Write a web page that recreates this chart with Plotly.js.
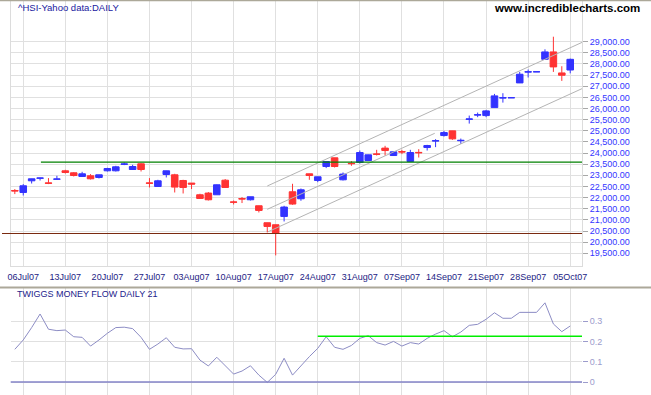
<!DOCTYPE html>
<html>
<head>
<meta charset="utf-8">
<script src="https://cdn.plot.ly/plotly-3.0.1.min.js"></script>
<style>
  html, body { margin: 0; padding: 0; background: #ffffff; }
  #chart { width: 651px; height: 395px; }
</style>
</head>
<body>
<div id="chart"></div>
<script>
// ---------------- data ----------------
const dates = [
  '2007-07-05','2007-07-06',
  '2007-07-09','2007-07-10','2007-07-11','2007-07-12','2007-07-13',
  '2007-07-16','2007-07-17','2007-07-18','2007-07-19','2007-07-20',
  '2007-07-23','2007-07-24','2007-07-25','2007-07-26','2007-07-27',
  '2007-07-30','2007-07-31','2007-08-01','2007-08-02','2007-08-03',
  '2007-08-06','2007-08-07','2007-08-08','2007-08-09','2007-08-10',
  '2007-08-13','2007-08-14','2007-08-15','2007-08-16','2007-08-17',
  '2007-08-20','2007-08-21','2007-08-22','2007-08-23','2007-08-24',
  '2007-08-27','2007-08-28','2007-08-29','2007-08-30','2007-08-31',
  '2007-09-03','2007-09-04','2007-09-05','2007-09-06','2007-09-07',
  '2007-09-10','2007-09-11','2007-09-12','2007-09-13','2007-09-14',
  '2007-09-17','2007-09-18','2007-09-19','2007-09-20','2007-09-21',
  '2007-09-24','2007-09-25','2007-09-26','2007-09-27','2007-09-28',
  '2007-10-01','2007-10-02','2007-10-03','2007-10-04','2007-10-05'
];

const openP = [
  22320, 22231, 22755, 22870, 22660, 22825, 23204, 23114, 22950, 22980,
  22905, 23204, 23204, 23495, 23262, 23518, 22660, 22499, 23038, 23024,
  22769, 22652, 22128, 22204, 22128, 22782, 21805, 21955, 21903, 21634,
  20872, 20782, 21155, 22262, 21948, 23069, 22769, 23397, 23787, 22800,
  23540, 23576, 23666, 23960, 24222, 23890, 24065, 23621, 24030, 24249,
  24540, 24787, 24997, 24555, 25515, 25705, 25683, 26042, 26470, 26483,
  27150, 27635, 27648, 28209, 28541, 27598, 27728
];
const highP = [
  22383, 22607, 22850, 22885, 22877, 22980, 23249, 23144, 23159, 23056,
  23024, 23338, 23428, 23576, 23473, 23549, 22877, 22800, 23210, 23069,
  22800, 22655, 22173, 22249, 22590, 22832, 21872, 22025, 22040, 21640,
  20875, 20785, 21634, 22621, 22410, 23075, 22940, 23625, 23790, 23128,
  23639, 24114, 23930, 24146, 24325, 24060, 24146, 24146, 24176, 24370,
  24625, 24997, 25000, 24652, 25683, 25818, 25939, 26656, 26687, 26485,
  27643, 27750, 27650, 28657, 29224, 27899, 28240
];
const lowP = [
  22159, 22096, 22634, 22769, 22607, 22820, 23083, 22950, 22935, 22814,
  22860, 23173, 23173, 23459, 23249, 23173, 22455, 22490, 22905, 22231,
  22186, 22383, 21950, 21872, 22120, 22450, 21693, 21756, 21872, 21334,
  20437, 19406, 20930, 21679, 21858, 22800, 22694, 23325, 23352, 22770,
  23428, 23531, 23660, 23890, 23890, 23880, 23953, 23615, 23800, 24114,
  24266, 24740, 24594, 24414, 25324, 25612, 25612, 26040, 26266, 26483,
  27145, 27392, 27648, 28182, 27643, 27240, 27580
];
const closeP = [
  22300, 22531, 22845, 22880, 22645, 22835, 23128, 22993, 23069, 22845,
  23024, 23307, 23383, 23510, 23397, 23262, 22645, 22755, 23204, 22473,
  22455, 22607, 21962, 21903, 22576, 22455, 21795, 21940, 22038, 21424,
  20706, 20390, 21576, 21711, 22352, 22993, 22935, 23621, 23397, 23056,
  23525, 24024, 23921, 23945, 24114, 24056, 24050, 24024, 24015, 24339,
  24555, 24921, 24638, 24570, 25530, 25720, 25894, 26567, 26485, 26485,
  27540, 27650, 27650, 28541, 27868, 27495, 28209
];

const moneyFlow = [
  0.161, 0.207, 0.268, 0.335, 0.260, 0.253, 0.256, 0.223, 0.220, 0.177,
  0.207, 0.240, 0.268, 0.270, 0.263, 0.220, 0.161, 0.187, 0.218, 0.171,
  0.163, 0.164, 0.108, 0.079, 0.122, 0.080, 0.039, 0.054, 0.080, 0.034,
  -0.002, 0.038, 0.117, 0.034, 0.080, 0.125, 0.166, 0.223, 0.171, 0.161,
  0.180, 0.215, 0.228, 0.194, 0.182, 0.200, 0.177, 0.194, 0.187, 0.215,
  0.236, 0.253, 0.223, 0.246, 0.279, 0.284, 0.309, 0.341, 0.314, 0.314,
  0.343, 0.343, 0.343, 0.390, 0.286, 0.248, 0.276
];

const tickDates = ['2007-07-06','2007-07-13','2007-07-20','2007-07-27','2007-08-03',
  '2007-08-10','2007-08-17','2007-08-24','2007-08-31','2007-09-07',
  '2007-09-14','2007-09-21','2007-09-28','2007-10-05'];
const tickLabels = ['06Jul07','13Jul07','20Jul07','27Jul07','03Aug07','10Aug07','17Aug07',
  '24Aug07','31Aug07','07Sep07','14Sep07','21Sep07','28Sep07','05Oct07'];

const priceTicks = [19500, 20000, 20500, 21000, 21500, 22000, 22500, 23000, 23500,
  24000, 24500, 25000, 25500, 26000, 26500, 27000, 27500, 28000, 28500, 29000];
const flowTicks = [0, 0.1, 0.2, 0.3];
const flowTickText = ['0', '0.1', '0.2', '0.3'];

// trend channel (start index, start value, end index, end value)
const channelStartIdx = [30.0, 30.0, 30.1];
const channelStartVal = [22521, 21475, 20469];
const channelEndIdx   = [67.4, 49.9, 67.4];
const channelEndVal   = [28969, 24887, 26892];

const supportLevel = 23590;      // green horizontal (price)
const supportStartIdx = 3.1;
const lowLevel = 20390;          // dark horizontal (price)
const flowSignal = 0.225;        // green horizontal (money flow)
const flowSignalStartIdx = 36;

// ---------------- layout helpers ----------------
const W = 651, H = 395;
const px = x => x / W;
const py = y => (H - y) / H;
const FONT = 'Liberation Sans, Arial, sans-serif';
const xLeft = 10.7, xRight = 582;
const xRange = [-0.49, 67.4];

const traces = [
  {
    type: 'candlestick',
    x: dates, open: openP, high: highP, low: lowP, close: closeP,
    xaxis: 'x', yaxis: 'y',
    increasing: { line: { color: '#3333ff', width: 1 }, fillcolor: '#3333ff' },
    decreasing: { line: { color: '#ff3333', width: 1 }, fillcolor: '#ff3333' },
    whiskerwidth: 0,
    hoverinfo: 'skip'
  },
  {
    type: 'scatter', mode: 'lines',
    x: dates, y: moneyFlow,
    xaxis: 'x2', yaxis: 'y2',
    line: { color: '#8c8cc4', width: 1 },
    hoverinfo: 'skip'
  }
];

const shapes = [];
for (let i = 0; i < channelStartIdx.length; i++) {
  shapes.push({ type: 'line', xref: 'x', yref: 'y',
    x0: channelStartIdx[i], y0: channelStartVal[i], x1: channelEndIdx[i], y1: channelEndVal[i],
    line: { color: '#b4b4b4', width: 1 } });
}
shapes.push({ type: 'line', xref: 'x', yref: 'y', x0: supportStartIdx, x1: xRange[1],
  y0: supportLevel, y1: supportLevel, line: { color: '#008000', width: 1.3 } });
shapes.push({ type: 'line', xref: 'paper', yref: 'y', x0: px(2), x1: px(xRight),
  y0: lowLevel, y1: lowLevel, line: { color: '#7a2a10', width: 1.2 } });
shapes.push({ type: 'line', xref: 'x2', yref: 'y2', x0: flowSignalStartIdx, x1: xRange[1],
  y0: flowSignal, y1: flowSignal, line: { color: '#00ee00', width: 1.5 } });
shapes.push({ type: 'line', xref: 'paper', yref: 'y2', x0: px(xLeft), x1: px(xRight),
  y0: 0, y1: 0, line: { color: '#8484c8', width: 1.5 } });
// frame lines
shapes.push({ type: 'line', xref: 'paper', yref: 'paper', x0: 0, x1: 1, y0: py(0.5), y1: py(0.5),
  line: { color: '#aca899', width: 1.5 } });
shapes.push({ type: 'line', xref: 'paper', yref: 'paper', x0: 0, x1: 1, y0: py(287.5), y1: py(287.5),
  line: { color: '#aca899', width: 2 } });

const layout = {
  width: W, height: H,
  margin: { l: 0, r: 0, t: 0, b: 0, pad: 0 },
  paper_bgcolor: '#ffffff', plot_bgcolor: '#ffffff',
  showlegend: false, hovermode: false, dragmode: false,
  font: { family: FONT, size: 9 },
  boxgap: 0.22,
  boxgroupgap: 0,
  xaxis: {
    type: 'category', domain: [px(xLeft), px(xRight)], range: xRange, anchor: 'y',
    tickvals: tickDates, ticktext: tickLabels, ticks: '', ticklabelstandoff: 2,
    tickfont: { family: FONT, size: 9, color: '#1c1c84' },
    showgrid: true, gridcolor: '#e0e0e0', gridwidth: 1,
    showline: true, linecolor: '#dcdcdc', linewidth: 1,
    zeroline: false, rangeslider: { visible: false }, fixedrange: true
  },
  yaxis: {
    domain: [py(266), 1], range: [18930, 30872], side: 'right', anchor: 'x',
    tickvals: priceTicks, tickformat: ',.2f',
    ticks: 'outside', ticklen: 5, tickcolor: '#a8a8a8', tickwidth: 1,
    tickfont: { family: FONT, size: 9, color: '#3535ff' },
    showgrid: true, gridcolor: '#e0e0e0', gridwidth: 1,
    showline: true, mirror: true, linecolor: '#dcdcdc', linewidth: 1,
    zeroline: false, fixedrange: true
  },
  xaxis2: {
    type: 'category', domain: [px(xLeft), px(xRight)], range: xRange, anchor: 'y2',
    tickvals: tickDates, showticklabels: false, ticks: '',
    showgrid: true, gridcolor: '#e0e0e0', gridwidth: 1,
    showline: false, zeroline: false, fixedrange: true
  },
  yaxis2: {
    domain: [0, py(288)], range: [-0.064, 0.463], side: 'right', anchor: 'x2',
    tickvals: flowTicks, ticktext: flowTickText,
    ticks: 'outside', ticklen: 5, tickcolor: '#9c9ccc', tickwidth: 1,
    tickfont: { family: FONT, size: 9, color: '#9c9ccc' },
    showgrid: true, gridcolor: '#e0e0e0', gridwidth: 1,
    showline: false, zeroline: false, fixedrange: true
  },
  shapes: shapes,
  annotations: [
    { text: '^HSI-Yahoo data:DAILY', xref: 'paper', yref: 'paper', x: px(16), y: py(7.5),
      xanchor: 'left', yanchor: 'middle', showarrow: false,
      font: { family: FONT, size: 9.5, color: '#2020a0' } },
    { text: 'www.incrediblecharts.com', xref: 'paper', yref: 'paper', x: px(642), y: py(8),
      xanchor: 'right', yanchor: 'middle', showarrow: false,
      font: { family: FONT, size: 11.5, color: '#000000', weight: 'bold' } },
    { text: 'TWIGGS MONEY FLOW DAILY 21', xref: 'paper', yref: 'paper', x: px(15), y: py(293.5),
      xanchor: 'left', yanchor: 'middle', showarrow: false,
      font: { family: FONT, size: 9, color: '#1c1c8c' } }
  ]
};

Plotly.newPlot('chart', traces, layout, { staticPlot: true, displayModeBar: false });
</script>
</body>
</html>
